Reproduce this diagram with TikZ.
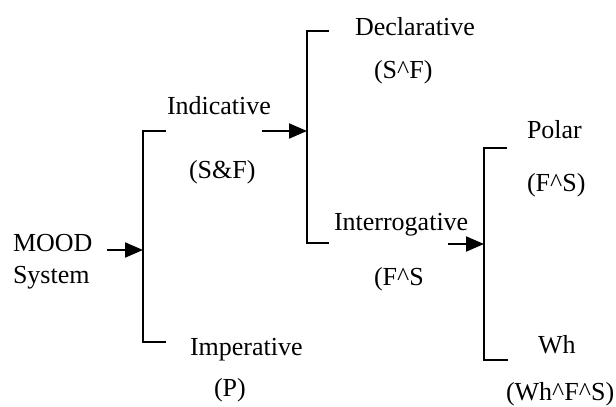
\documentclass[tikz,border=0pt]{standalone}
\usepackage{fontspec}
\setmainfont{Liberation Serif}
\usetikzlibrary{arrows.meta}
\begin{document}
\begin{tikzpicture}[x=1pt, y=-1pt, line width=2pt,
		every node/.style={inner sep=0pt, anchor=base west, font=\fontsize{26}{32}\selectfont},
		flecha/.style={-{Triangle[length=18pt, width=15pt]}}]
	\useasboundingbox (0,0) rectangle (616,407);
		% Textos
			% Nivel 1
				\node[align=left] (mood) at (12,283) {MOOD\\System};
			% Nivel 2
				\node (indic) at (166,114) {Indicative};
				\node (indicf) at (188,178) {(S\&F)};
				\node (imper) at (189,355) {Imperative};
				\node (imperf) at (213,396) {(P)};
			% Nivel 3
				\node (decl) at (354,35) {Declarative};
				\node (declf) at (373,78) {(S\textasciicircum F)};
				\node (inter) at (333,230) {Interrogative};
				\node (interf) at (373,285) {(F\textasciicircum S};
			% Nivel 4
				\node (polar) at (526,138) {Polar};
				\node (polarf) at (526,191) {(F\textasciicircum S)};
				\node (wh) at (537,353) {Wh};
				\node (whf) at (505,400) {(Wh\textasciicircum F\textasciicircum S)};
		% Corchetes
			\coordinate (ua) at (166,131); \coordinate (ub) at (166,342);
			\coordinate (da) at (329,31); \coordinate (db) at (329,243);
			\coordinate (pa) at (507,148); \coordinate (pb) at (508,360);
			\draw (ua) -- (143,131) -- (143,342) -- (ub);
			\draw (da) -- (307,31) -- (307,243) -- (db);
			\draw (pa) -- (484,148) -- (484,360) -- (pb);
		% Flechas
			\coordinate (m0) at (107,250); \coordinate (m1) at (143,250);
			\coordinate (i0) at (262,131); \coordinate (i1) at (307,131);
			\coordinate (q0) at (448,244); \coordinate (q1) at (484,244);
			\draw[flecha] (m0) -- (m1);
			\draw[flecha] (i0) -- (i1);
			\draw[flecha] (q0) -- (q1);
\end{tikzpicture}
\end{document}
